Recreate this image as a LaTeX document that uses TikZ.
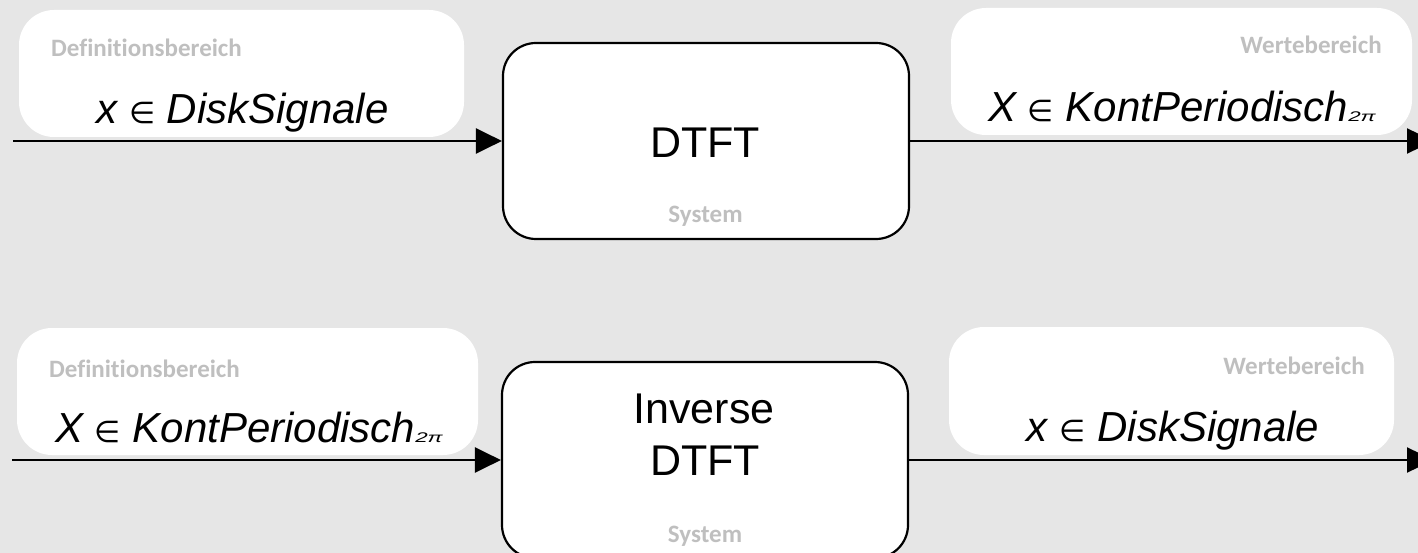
\documentclass[tikz,border=0pt]{standalone}
\usepackage{fontspec}
\usepackage{graphicx}
\setmainfont{Liberation Sans}
\newfontfamily\labelfont[Ligatures={NoCommon,NoRequired,NoContextual}]{Carlito}
\newfontfamily\symbolfont{DejaVu Sans}
\usetikzlibrary{arrows.meta}
\definecolor{canvas}{RGB}{230,230,230}
\definecolor{hint}{RGB}{191,191,191}
\newcommand{\memberof}{{\symbolfont\upshape\fontsize{30}{30}\selectfont ∈}}
\newcommand{\twopi}{{\fontsize{14}{14}\selectfont\scalebox{1.6}[1]{2π}}}
\tikzset{
  domainbox/.style={fill=white, draw=none, rounded corners=35pt, minimum height=127pt, inner sep=0pt},
  systembox/.style={fill=white, draw=black, line width=2.2pt, rounded corners=33pt,
    minimum width=406pt, minimum height=196pt, inner sep=0pt},
  setlabel/.style={font=\fontsize{42}{50}\selectfont\itshape, inner sep=0pt, anchor=base},
  hintlabel/.style={font=\labelfont\bfseries\fontsize{25}{29}\selectfont, text=hint, inner sep=0pt},
  syslabel/.style={font=\fontsize{43}{51}\selectfont, inner sep=0pt, anchor=base},
  flow/.style={line width=2.5pt, -{Triangle[length=26pt,width=25pt]}},
}
\begin{document}
\begin{tikzpicture}[x=1pt,y=-1pt]
  \useasboundingbox (0,0) rectangle (1418,553);
  \fill[canvas] (0,0) rectangle (1418,553);

  % domain and range panels
  \node[domainbox, minimum width=445pt] (dom1) at (241.5,73.5) {};
  \node[domainbox, minimum width=461pt] (ran1) at (1181.5,71.5) {};
  \node[domainbox, minimum width=461pt] (dom2) at (247.5,391.5) {};
  \node[domainbox, minimum width=445pt, minimum height=128pt] (ran2) at (1171.5,391) {};

  % signal flow
  \coordinate (src1) at (13,141);
  \coordinate (dst1) at (1433,141);
  \coordinate (src2) at (12,460);
  \coordinate (dst2) at (1433,460);

  % systems
  \node[systembox] (sys1) at (706,141) {};
  \node[systembox] (sys2) at (705,460) {};

  \draw[flow] (src1) -- (sys1.west);
  \draw[flow] (sys1.east) -- (dst1);
  \draw[flow] (src2) -- (sys2.west);
  \draw[flow] (sys2.east) -- (dst2);

  % panel captions
  \node[hintlabel, anchor=base west] (dom1cap) at (51,57) {Definitionsbereich};
  \node[hintlabel, anchor=base east] (ran1cap) at (1382,54) {Wertebereich};
  \node[hintlabel, anchor=base west] (dom2cap) at (49,377) {Definitionsbereich};
  \node[hintlabel, anchor=base east] (ran2cap) at (1365,374) {Wertebereich};

  % sets
  \node[setlabel] (dom1set) at (242.5,124) {x~\memberof~DiskSignale};
  \node[setlabel] (ran1set) at (1182,122) {X~\memberof~KontPeriodisch\twopi};
  \node[setlabel] (dom2set) at (249,442) {X~\memberof~KontPeriodisch\twopi};
  \node[setlabel] (ran2set) at (1173,441) {x~\memberof~DiskSignale};

  % system names
  \node[syslabel] (sys1name) at (705,158) {DTFT};
  \node[syslabel] (sys2name1) at (704,423) {Inverse};
  \node[syslabel] (sys2name2) at (705,475) {DTFT};
  \node[hintlabel, anchor=base] (sys1cap) at (705.5,223) {System};
  \node[hintlabel, anchor=base] (sys2cap) at (705,542) {System};
\end{tikzpicture}
\end{document}
